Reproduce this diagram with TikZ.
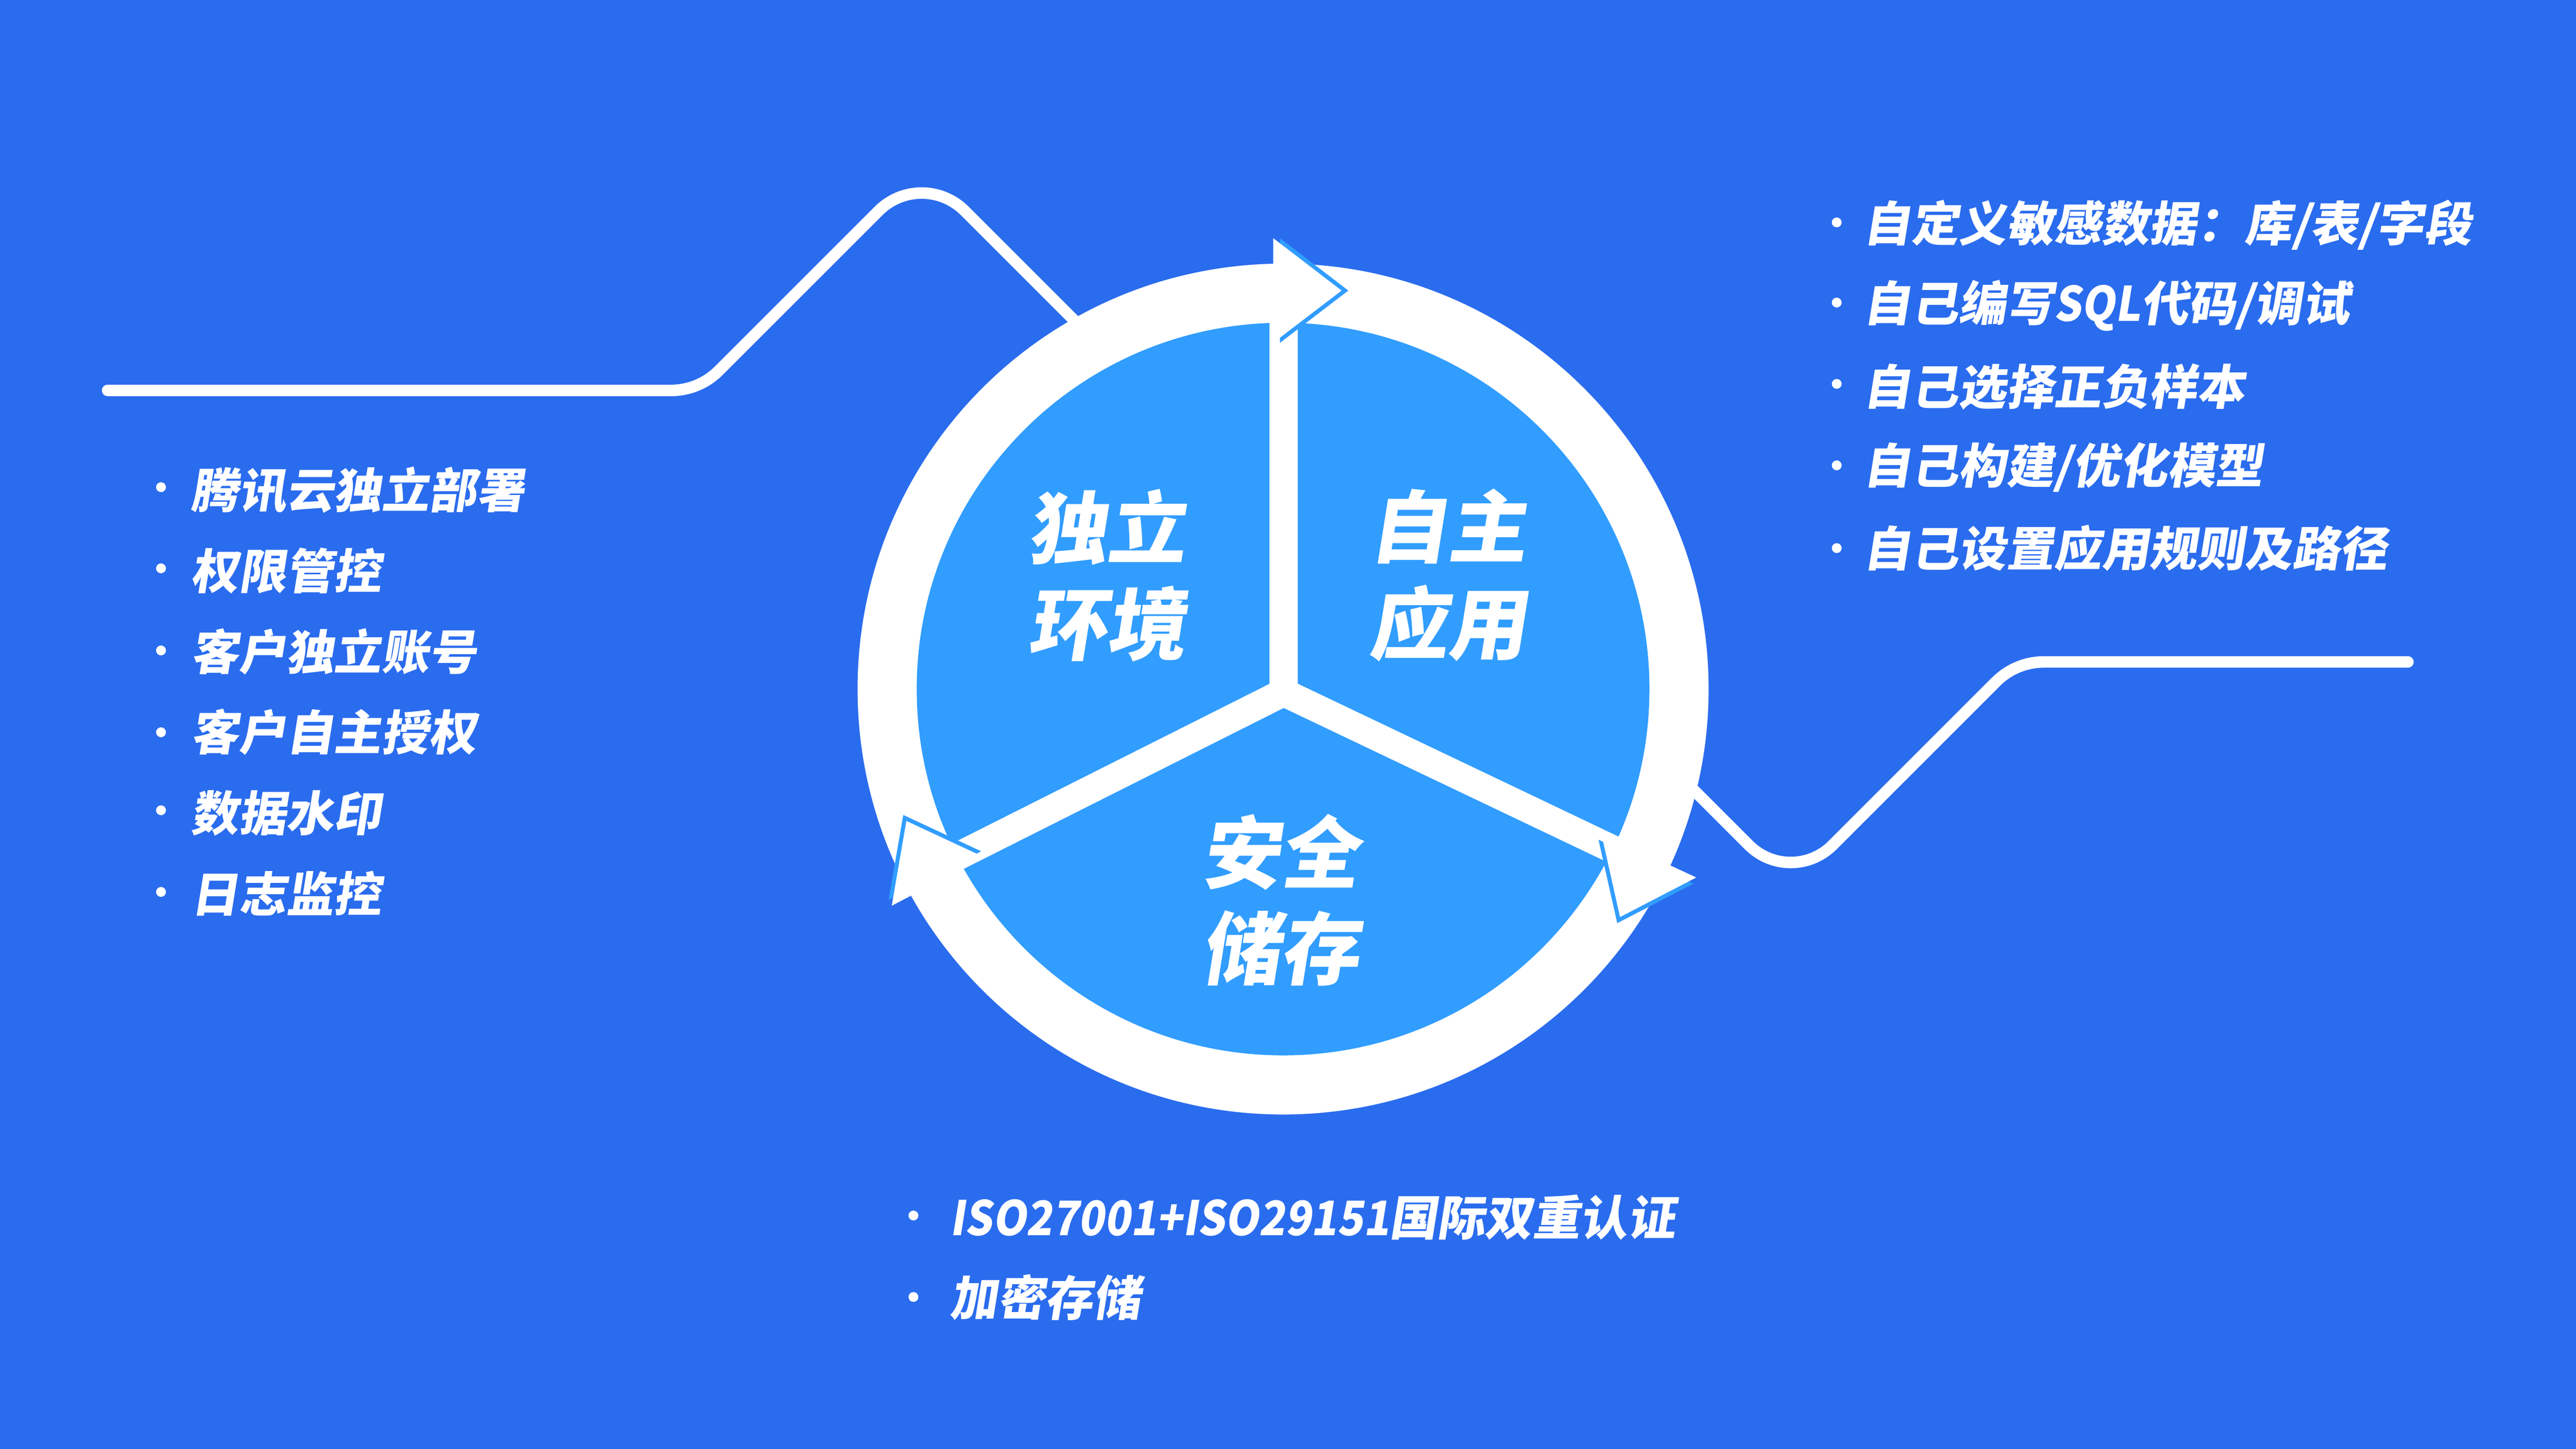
\documentclass[tikz,border=0pt]{standalone}
\usepackage{fontspec}
\newfontfamily\cjk[FakeSlant=0.16]{Noto Sans CJK SC}
\newfontfamily\cjklat[FakeSlant=0.16,FakeStretch=0.9]{Noto Sans CJK SC}
\usetikzlibrary{calc}
\definecolor{bgblue}{HTML}{2A6CEE}
\definecolor{lightblue}{HTML}{319DFF}
\begin{document}
\begin{tikzpicture}[x=1pt,y=-1pt,
  conn/.style={draw=white,line width=7pt,line cap=round,line join=round},
  divider/.style={draw=white,line width=17pt,line cap=butt},
  bulletdot/.style={circle,fill=white,inner sep=0pt,minimum size=6pt},
  item/.style={anchor=west,inner sep=0pt,text=white,font=\cjk\bfseries\fontsize{29}{29}\selectfont},
  biglabel/.style={align=center,inner sep=0pt,text=white,font=\cjk\bfseries\fontsize{48}{58.7}\selectfont}]
\useasboundingbox (0,0) rectangle (1568,882);
\fill[bgblue] (0,0) rectangle (1568,882);

% connector upper left
\coordinate (s1) at (65.5,237.7);
\coordinate (v1) at (425.5,237.7);
\coordinate (p1) at (561,102.2);
\coordinate (e1) at (670,211.2);
\coordinate (a1) at ($(v1)!17pt!(s1)$);
\coordinate (b1) at ($(v1)!17pt!(p1)$);
\coordinate (a2) at ($(p1)!37pt!(v1)$);
\coordinate (b2) at ($(p1)!37pt!(e1)$);
\draw[conn] (s1) -- (a1) .. controls ($(a1)!0.64!(v1)$) and ($(b1)!0.64!(v1)$) .. (b1)
  -- (a2) .. controls ($(a2)!0.5523!(p1)$) and ($(b2)!0.5523!(p1)$) .. (b2) -- (e1);

% connector right
\coordinate (s2) at (1020,470);
\coordinate (v2) at (1090,540);
\coordinate (v3) at (1227,403);
\coordinate (e2) at (1465.7,403);
\coordinate (a3) at ($(v2)!36pt!(s2)$);
\coordinate (b3) at ($(v2)!36pt!(v3)$);
\coordinate (a4) at ($(v3)!17pt!(v2)$);
\coordinate (b4) at ($(v3)!17pt!(e2)$);
\draw[conn] (s2) -- (a3) .. controls ($(a3)!0.5523!(v2)$) and ($(b3)!0.5523!(v2)$) .. (b3)
  -- (a4) .. controls ($(a4)!0.64!(v3)$) and ($(b4)!0.64!(v3)$) .. (b4) -- (e2);

% circle
\coordinate (C) at (781,419.5);
\fill[white] (C) circle[radius=259pt];
\fill[lightblue] (C) circle[radius=223pt];

% dividers
\coordinate (J) at (781.35,421.5);
\draw[divider] (781.35,430) -- (781.35,185);
\draw[divider] (788.5,417.9) -- (571.4,527.1);
\draw[divider] (774.1,418.1) -- (993.5,522.7);

% arrowheads: top
\fill[lightblue] (779.1,145) -- (820.7,176.9) -- (779.1,208.7) -- cycle;
\fill[white] (775,145) -- (816.6,176.9) -- (775,208.7) -- cycle;
% lower right
\fill[lightblue] (973.0,511.23) -- (984.4,562.03) -- (1030.8,537.93) -- cycle;
\fill[white] (974.7,507.5) -- (986.1,558.3) -- (1032.5,534.2) -- cycle;
% lower left
\fill[lightblue] (597.2,518.26) -- (549.8,496.16) -- (540.9,547.76) -- cycle;
\fill[white] (599.1,521.9) -- (551.7,499.8) -- (542.8,551.4) -- cycle;

% circle labels
\node[biglabel] (envlabel) at (673.5,350.2) {独立\\环境};
\node[biglabel] (applabel) at (881,350.2) {自主\\应用};
\node[biglabel] (storelabel) at (779,548) {安全\\储存};

% left list
\node[bulletdot] (lb1) at (98,296.6) {};
\node[bulletdot] (lb2) at (98,346) {};
\node[bulletdot] (lb3) at (98,396) {};
\node[bulletdot] (lb4) at (98,445.8) {};
\node[bulletdot] (lb5) at (98,493.3) {};
\node[bulletdot] (lb6) at (98,543) {};
\node[item] (lt1) at (116,298.5) {腾讯云独立部署};
\node[item] (lt2) at (116,347.6) {权限管控};
\node[item] (lt3) at (116,396.7) {客户独立账号};
\node[item] (lt4) at (116,445.8) {客户自主授权};
\node[item] (lt5) at (116,494.9) {数据水印};
\node[item] (lt6) at (116,544) {日志监控};

% right list
\node[bulletdot] (rb1) at (1118,135.4) {};
\node[bulletdot] (rb2) at (1118,184.2) {};
\node[bulletdot] (rb3) at (1118,233.7) {};
\node[bulletdot] (rb4) at (1118,283.3) {};
\node[bulletdot] (rb5) at (1118,333.7) {};
\node[item] (rt1) at (1134,137) {自定义敏感数据：库/表/字段};
\node[item] (rt2) at (1134,186.2) {自己编写{\cjklat SQL}代码/调试};
\node[item] (rt3) at (1134,235.4) {自己选择正负样本};
\node[item] (rt4) at (1134,284.6) {自己构建/优化模型};
\node[item] (rt5) at (1134,333.8) {自己设置应用规则及路径};

% bottom list
\node[bulletdot] (bb1) at (556,740) {};
\node[bulletdot] (bb2) at (556,789.6) {};
\node[item] (bt1) at (578,741) {{\cjklat ISO27001+ISO29151}国际双重认证};
\node[item] (bt2) at (578,790) {加密存储};
\end{tikzpicture}
\end{document}
